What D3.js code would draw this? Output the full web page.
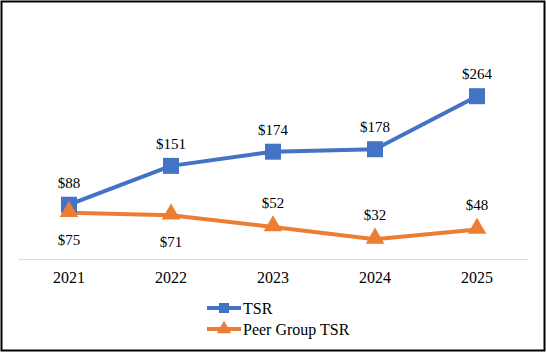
<!DOCTYPE html>
<html>
<head>
<meta charset="utf-8">
<script src="https://cdn.jsdelivr.net/npm/d3@7"></script>
<style>
  body { margin: 0; background: #fff; }
  svg { display: block; }
  svg text { font-family: 'Liberation Serif', 'Times New Roman', Times, 'DejaVu Serif', serif; fill: #000; }
</style>
</head>
<body>
<svg width="546" height="352"></svg>
<script>
var years = ['2021', '2022', '2023', '2024', '2025'];
var tsr = [88, 151, 174, 178, 264];
var peer = [75, 71, 52, 32, 48];
// where each peer label goes relative to its marker
var peerLabelPos = ['below', 'below', 'above', 'above', 'above'];

var svg = d3.select('svg'),
    width = +svg.attr('width'),
    height = +svg.attr('height');

var blue = '#4472C4',
    orange = '#ED7D31',
    serif = "'Liberation Serif', 'Times New Roman', Times, 'DejaVu Serif', serif";

// outer frame
svg.append('rect')
    .attr('x', 1.5).attr('y', 1.5)
    .attr('width', width - 3).attr('height', height - 3)
    .attr('fill', '#fff')
    .attr('stroke', '#000')
    .attr('stroke-width', 2);

var x = d3.scaleBand()
    .domain(years)
    .range([18, 528]);

var y = d3.scaleLinear()
    .domain([0, 300])
    .range([259, 74]);

var cx = function(d, i) { return x(years[i]) + x.bandwidth() / 2; };

// category axis
var xAxis = d3.axisBottom(x).tickSize(0).tickPadding(13);
var gx = svg.append('g')
    .attr('transform', 'translate(0,' + y(0) + ')')
    .call(xAxis)
    .attr('font-family', serif)
    .attr('font-size', 16);
gx.select('.domain').attr('stroke', '#d9d9d9').attr('stroke-width', 1);
gx.selectAll('text').attr('fill', '#000');

var line = d3.line()
    .x(function(d, i) { return cx(d, i); })
    .y(function(d) { return y(d); });

var square = d3.symbol().type(d3.symbolSquare).size(256);
var triangle = d3.symbol().type(d3.symbolTriangle).size(150);

// TSR
svg.append('path')
    .datum(tsr)
    .attr('d', line)
    .attr('fill', 'none')
    .attr('stroke', blue)
    .attr('stroke-width', 4)
    .attr('stroke-linejoin', 'round');

// Peer group
svg.append('path')
    .datum(peer)
    .attr('d', line)
    .attr('fill', 'none')
    .attr('stroke', orange)
    .attr('stroke-width', 4)
    .attr('stroke-linejoin', 'round');

svg.append('g')
    .selectAll('path')
    .data(tsr)
    .enter().append('path')
        .attr('d', square)
        .attr('fill', blue)
        .attr('transform', function(d, i) { return 'translate(' + cx(d, i) + ',' + y(d) + ')'; });

svg.append('g')
    .selectAll('path')
    .data(peer)
    .enter().append('path')
        .attr('d', triangle)
        .attr('fill', orange)
        .attr('transform', function(d, i) { return 'translate(' + cx(d, i) + ',' + (y(d) - 1) + ')'; });

// data labels
svg.append('g')
    .attr('font-family', serif)
    .attr('font-size', 15)
    .selectAll('text')
    .data(tsr)
    .enter().append('text')
        .attr('x', cx)
        .attr('y', function(d) { return y(d) - 17; })
        .attr('text-anchor', 'middle')
        .text(function(d) { return '$' + d; });

svg.append('g')
    .attr('font-family', serif)
    .attr('font-size', 15)
    .selectAll('text')
    .data(peer)
    .enter().append('text')
        .attr('x', cx)
        .attr('y', function(d, i) { return peerLabelPos[i] == 'below' ? y(d) + 32 : y(d) - 19; })
        .attr('text-anchor', 'middle')
        .text(function(d) { return '$' + d; });

// legend
var legend = [
    { name: 'TSR', color: blue, sym: d3.symbol().type(d3.symbolSquare).size(100) },
    { name: 'Peer Group TSR', color: orange, sym: d3.symbol().type(d3.symbolTriangle).size(90) }
];

var lg = svg.append('g')
    .attr('font-family', serif)
    .attr('font-size', 16)
    .selectAll('g')
    .data(legend)
    .enter().append('g')
        .attr('transform', function(d, i) { return 'translate(207,' + (308 + i * 21) + ')'; });

lg.append('line')
    .attr('x1', 0).attr('x2', 34)
    .attr('stroke', function(d) { return d.color; })
    .attr('stroke-width', 4);

lg.append('path')
    .attr('d', function(d) { return d.sym(); })
    .attr('fill', function(d) { return d.color; })
    .attr('transform', 'translate(17,0)');

lg.append('text')
    .attr('x', 36)
    .attr('dy', '0.35em')
    .text(function(d) { return d.name; });
</script>
</body>
</html>
